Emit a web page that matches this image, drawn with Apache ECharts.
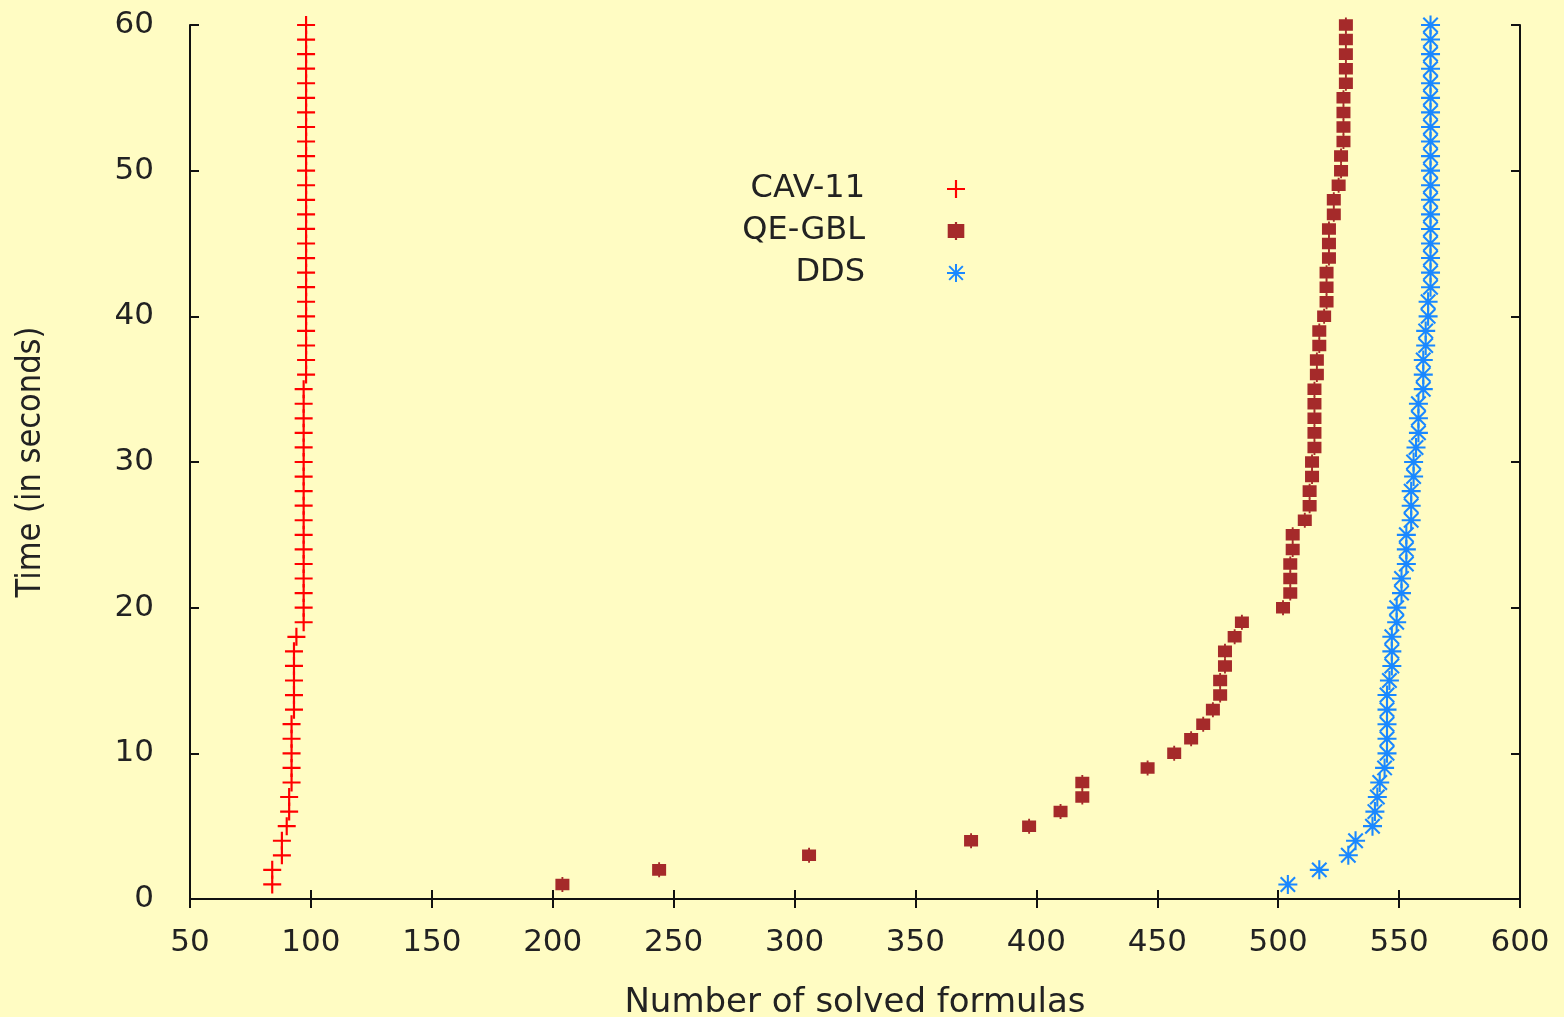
<!DOCTYPE html>
<html>
<head>
<meta charset="utf-8">
<script src="https://cdn.jsdelivr.net/npm/echarts@6/dist/echarts.min.js"></script>
<style>
html, body { margin: 0; padding: 0; background: #fffcc3; }
#chart { width: 1564px; height: 1017px; }
</style>
</head>
<body>
<div id="chart"></div>
<script>
// time limit (seconds), one point per second
var times = [1, 2, 3, 4, 5, 6, 7, 8, 9, 10,
	11, 12, 13, 14, 15, 16, 17, 18, 19, 20,
	21, 22, 23, 24, 25, 26, 27, 28, 29, 30,
	31, 32, 33, 34, 35, 36, 37, 38, 39, 40,
	41, 42, 43, 44, 45, 46, 47, 48, 49, 50,
	51, 52, 53, 54, 55, 56, 57, 58, 59, 60];

// number of solved formulas at each time
var cav11 = [84, 84, 88, 88, 90, 91, 91, 92, 92, 92,
	92, 92, 93, 93, 93, 93, 93, 94, 97, 97,
	97, 97, 97, 97, 97, 97, 97, 97, 97, 97,
	97, 97, 97, 97, 97, 98, 98, 98, 98, 98,
	98, 98, 98, 98, 98, 98, 98, 98, 98, 98,
	98, 98, 98, 98, 98, 98, 98, 98, 98, 98];

var qegbl = [204, 244, 306, 373, 397, 410, 419, 419, 446, 457,
	464, 469, 473, 476, 476, 478, 478, 482, 485, 502,
	505, 505, 505, 506, 506, 511, 513, 513, 514, 514,
	515, 515, 515, 515, 515, 516, 516, 517, 517, 519,
	520, 520, 520, 521, 521, 521, 523, 523, 525, 526,
	526, 527, 527, 527, 527, 528, 528, 528, 528, 528];

var dds = [504, 517, 529, 532, 539, 540, 541, 542, 544, 545,
	545, 545, 545, 545, 546, 547, 547, 547, 549, 549,
	551, 551, 553, 553, 553, 555, 555, 555, 556, 556,
	557, 558, 558, 558, 560, 560, 560, 561, 561, 562,
	562, 563, 563, 563, 563, 563, 563, 563, 563, 563,
	563, 563, 563, 563, 563, 563, 563, 563, 563, 563];

var xTicks = { min: 50, max: 600, step: 50 };
var yTicks = { min: 0, max: 60, step: 10 };

var seriesNames = ['CAV-11', 'QE-GBL', 'DDS'];

// marker shapes (gnuplot-like)
var plusPath = 'path://M44,0L56,0L56,44L100,44L100,56L56,56L56,100L44,100L44,56L0,56L0,44L44,44Z';
var boxPath = 'path://M0,1.5L12,1.5L12,11.5L0,11.5Z M5.2,0L6.8,0L6.8,13L5.2,13Z';
var starPath = 'path://M0,44.5L100,44.5L100,55.5L0,55.5Z M44.5,0L55.5,0L55.5,100L44.5,100Z ' +
	'M15.9,8.1L91.9,84.1L84.1,91.9L8.1,15.9Z M84.1,8.1L91.9,15.9L15.9,91.9L8.1,84.1Z';

function pairs(xs) {
	var out = [];
	for (var i = 0; i < xs.length; i++) {
		out.push([xs[i], times[i]]);
	}
	return out;
}

var font = 'DejaVu Sans';
var frame = { show: true, lineStyle: { color: '#111', width: 2 } };
var ticksIn = { show: true, inside: true, length: 9, lineStyle: { color: '#111', width: 2 } };

var myChart = echarts.init(document.getElementById('chart'));

option = {
	backgroundColor: '#fffcc3',
	animation: false,
	grid: {
		left: 190,
		right: 44,
		top: 25,
		bottom: 118,
		outerBoundsMode: 'none'
	},
	legend: {
		orient: 'vertical',
		align: 'right',
		right: 599,
		top: 172,
		padding: 0,
		itemGap: 8,
		itemWidth: 18,
		itemHeight: 18,
		selectedMode: false,
		textStyle: {
			fontFamily: font,
			fontSize: 32,
			color: '#222',
			lineHeight: 34,
			width: 170,
			padding: [0, 77, 0, 0]
		},
		data: [
			{ name: seriesNames[0], icon: plusPath },
			{ name: seriesNames[1], icon: boxPath },
			{ name: seriesNames[2], icon: starPath }
		]
	},
	xAxis: [{
		type: 'value',
		position: 'bottom',
		min: xTicks.min,
		max: xTicks.max,
		interval: xTicks.step,
		axisLine: frame,
		axisTick: ticksIn,
		splitLine: { show: false },
		axisLabel: { fontFamily: font, fontSize: 31, color: '#222', margin: 28 },
		name: 'Number of solved formulas',
		nameLocation: 'middle',
		nameGap: 87,
		nameTextStyle: { fontFamily: font, fontSize: 34, color: '#222' }
	}, {
		type: 'value',
		position: 'top',
		min: xTicks.min,
		max: xTicks.max,
		interval: xTicks.step,
		axisLine: frame,
		axisTick: ticksIn,
		splitLine: { show: false },
		axisLabel: { show: false }
	}],
	yAxis: [{
		type: 'value',
		position: 'left',
		min: yTicks.min,
		max: yTicks.max,
		interval: yTicks.step,
		axisLine: frame,
		axisTick: ticksIn,
		splitLine: { show: false },
		axisLabel: { fontFamily: font, fontSize: 31, color: '#222', margin: 36 },
		name: 'Time (in seconds)',
		nameLocation: 'middle',
		nameRotate: 90,
		nameGap: 142,
		nameTextStyle: { fontFamily: 'DejaVu Sans Condensed', fontSize: 34, color: '#222' }
	}, {
		type: 'value',
		position: 'right',
		min: yTicks.min,
		max: yTicks.max,
		interval: yTicks.step,
		axisLine: frame,
		axisTick: ticksIn,
		splitLine: { show: false },
		axisLabel: { show: false }
	}],
	series: [{
		name: seriesNames[0],
		type: 'scatter',
		clip: false,
		symbol: plusPath,
		symbolSize: 18,
		itemStyle: { color: '#ff0000', opacity: 1 },
		data: pairs(cav11)
	}, {
		name: seriesNames[1],
		type: 'scatter',
		clip: false,
		symbol: boxPath,
		symbolSize: [14, 15],
		itemStyle: { color: '#a52a2a', opacity: 1 },
		data: pairs(qegbl)
	}, {
		name: seriesNames[2],
		type: 'scatter',
		clip: false,
		symbol: starPath,
		symbolSize: 19,
		itemStyle: { color: '#1a88ff', opacity: 1 },
		data: pairs(dds)
	}]
};

myChart.setOption(option);
</script>
</body>
</html>
